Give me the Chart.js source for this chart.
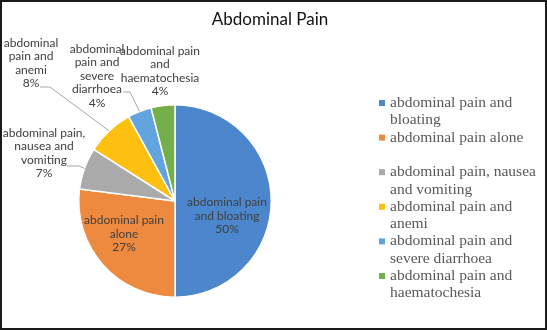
<!DOCTYPE html>
<html><head><meta charset="utf-8">
<script src="https://cdn.jsdelivr.net/npm/chart.js@4.4.1/dist/chart.umd.min.js"></script>
<style>html,body{margin:0;padding:0;background:#fff;}canvas{display:block}</style>
</head><body>
<canvas id="c" width="547" height="330"></canvas>
<script>
const chartTitle = 'Abdominal Pain';
const categories = [
  'abdominal pain and bloating',
  'abdominal pain alone',
  'abdominal pain, nausea and vomiting',
  'abdominal pain and anemi',
  'abdominal pain and severe diarrhoea',
  'abdominal pain and haematochesia'
];
const shares = [50, 27, 7, 8, 4, 4];
const sliceColors = ['#4C86CC', '#EE8940', '#AAAAAA', '#FDC010', '#62A5DE', '#74AF4C'];

// how each slice label breaks into lines (percentage is appended)
const sliceLabelLines = [
  ['abdominal pain', 'and bloating'],
  ['abdominal pain', 'alone'],
  ['abdominal pain,', 'nausea and', 'vomiting'],
  ['abdominal', 'pain and', 'anemi'],
  ['abdominal', 'pain and', 'severe', 'diarrhoea'],
  ['abdominal pain', 'and', 'haematochesia']
];

// label block centres and leader-line starts (layout only)
const labelSpots = [
  { x: 227, y: 216 },
  { x: 124, y: 234 },
  { x: 44, y: 153, leader: [[67, 166], [79, 166]] },
  { x: 31, y: 63, leader: [[40, 87], [50, 87]] },
  { x: 97, y: 76, leader: [[123, 92], [130, 92]] },
  { x: 160, y: 71 }
];

const labelFont = '12px Lato';
const labelLineHeight = 13.5;
const legendFont = '15.5px "Liberation Serif"';
const legendLineHeight = 17.3;

function wrapText(ctx, text, maxW) {
  const words = text.split(' ');
  const lines = [];
  let cur = '';
  for (const w of words) {
    const t = cur ? cur + ' ' + w : w;
    if (cur && ctx.measureText(t).width > maxW) { lines.push(cur); cur = w; }
    else cur = t;
  }
  if (cur) lines.push(cur);
  return lines;
}

const decorPlugin = {
  id: 'decor',
  afterDatasetsDraw(chart) {
    const ctx = chart.ctx;
    const meta = chart.getDatasetMeta(0);
    const total = shares.reduce((a, b) => a + b, 0);
    ctx.save();

    // leader lines from labels to slice edges
    ctx.strokeStyle = '#A6A6A6';
    ctx.lineWidth = 1;
    meta.data.forEach((arc, i) => {
      const spot = labelSpots[i];
      if (!spot.leader) return;
      const p = arc.getProps(['x', 'y', 'startAngle', 'endAngle', 'outerRadius'], true);
      const mid = (p.startAngle + p.endAngle) / 2;
      const ex = p.x + p.outerRadius * Math.cos(mid);
      const ey = p.y + p.outerRadius * Math.sin(mid);
      ctx.beginPath();
      ctx.moveTo(spot.leader[0][0], spot.leader[0][1]);
      for (let k = 1; k < spot.leader.length; k++) ctx.lineTo(spot.leader[k][0], spot.leader[k][1]);
      ctx.lineTo(ex, ey);
      ctx.stroke();
    });

    // slice labels
    ctx.font = labelFont;
    ctx.fillStyle = '#404040';
    ctx.textAlign = 'center';
    ctx.textBaseline = 'middle';
    shares.forEach((v, i) => {
      const lines = sliceLabelLines[i].concat([Math.round(v / total * 100) + '%']);
      const spot = labelSpots[i];
      const y0 = spot.y - (lines.length - 1) * labelLineHeight / 2;
      lines.forEach((ln, k) => ctx.fillText(ln, spot.x, y0 + k * labelLineHeight));
    });

    // title
    ctx.font = '17px Lato';
    ctx.fillStyle = '#111';
    ctx.fillText(chartTitle, 270, 20);

    // legend
    ctx.font = legendFont;
    ctx.textAlign = 'left';
    let y = 103;
    categories.forEach((name, i) => {
      const lines = wrapText(ctx, name, 155);
      ctx.fillStyle = sliceColors[i];
      ctx.fillRect(379, y - 3, 6, 6);
      ctx.fillStyle = '#595959';
      lines.forEach((ln, k) => ctx.fillText(ln, 390, y + k * legendLineHeight));
      y += lines.length * legendLineHeight;
      if (i === 1) y += legendLineHeight;
    });

    // frame
    ctx.strokeStyle = '#1a1a1a';
    ctx.lineWidth = 2;
    ctx.strokeRect(1, 1, chart.width - 2, chart.height - 2);
    ctx.restore();
  }
};

new Chart(document.getElementById('c'), {
  type: 'pie',
  data: {
    labels: categories,
    datasets: [{
      data: shares,
      backgroundColor: sliceColors,
      borderColor: '#ffffff',
      borderWidth: 1.5
    }]
  },
  options: {
    responsive: false,
    animation: false,
    events: [],
    layout: { padding: { left: 78, right: 275, top: 104, bottom: 32 } },
    plugins: { legend: { display: false }, title: { display: false }, tooltip: { enabled: false } }
  },
  plugins: [decorPlugin]
});
</script>
</body></html>
